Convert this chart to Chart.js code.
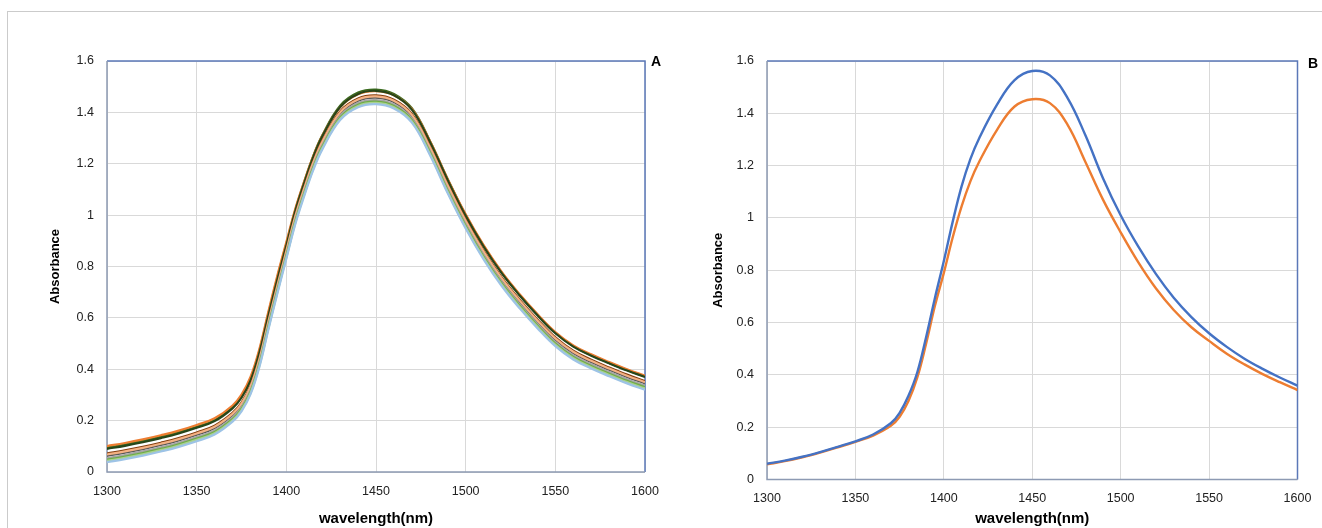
<!DOCTYPE html>
<html><head><meta charset="utf-8">
<script src="https://cdn.jsdelivr.net/npm/chart.js@4.4.1/dist/chart.umd.min.js"></script>
<style>
html,body{margin:0;padding:0;background:#fff;}
#wrap{position:relative;width:1322px;height:528px;overflow:hidden;background:#fff;}
#frame{position:absolute;left:7px;top:11px;width:1330px;height:530px;border-top:1px solid #cbcbcb;border-left:1px solid #cbcbcb;}
canvas{position:absolute;top:0;}
#cA{left:0;} #cB{left:661px;}
.lab{position:absolute;font:bold 14px "Liberation Sans",Arial,sans-serif;color:#000;}
</style></head><body>
<div id="wrap"><div id="frame"></div>
<canvas id="cA" width="661" height="528"></canvas>
<canvas id="cB" width="661" height="528"></canvas>
<div class="lab" style="left:651px;top:53px">A</div>
<div class="lab" style="left:1308px;top:55px">B</div>
</div>
<script>
// ---------- data ----------
const wavelengths = [1300,1310,1320,1330,1340,1350,1360,1370,1375,1380,1385,1390,1395,1400,1405,1410,1415,1420,1430,1440,1450,1460,1470,1480,1490,1500,1510,1520,1530,1540,1550,1560,1570,1580,1590,1600];
const xTickLabels = ['1300','1350','1400','1450','1500','1550','1600'];
const yTickLabels = ['0','0.2','0.4','0.6','0.8','1','1.2','1.4','1.6'];

// Panel A spectra
const aOrange     = [0.101,0.113,0.127,0.143,0.161,0.183,0.209,0.259,0.301,0.370,0.480,0.625,0.765,0.895,1.025,1.132,1.230,1.308,1.420,1.471,1.483,1.467,1.413,1.290,1.140,1.003,0.883,0.780,0.693,0.615,0.545,0.493,0.458,0.428,0.400,0.375];
const aDarkGreen  = [0.095,0.107,0.121,0.137,0.155,0.176,0.202,0.252,0.294,0.362,0.472,0.617,0.757,0.888,1.020,1.130,1.230,1.310,1.426,1.477,1.489,1.472,1.416,1.290,1.140,1.000,0.880,0.777,0.690,0.612,0.542,0.490,0.455,0.425,0.397,0.372];
const aBlackGreen = [0.090,0.102,0.116,0.132,0.150,0.172,0.198,0.248,0.289,0.356,0.465,0.609,0.749,0.882,1.016,1.126,1.226,1.306,1.421,1.472,1.484,1.467,1.411,1.286,1.136,0.997,0.878,0.775,0.688,0.610,0.540,0.488,0.453,0.423,0.395,0.370];
const aBrown      = [0.072,0.084,0.098,0.114,0.132,0.154,0.180,0.230,0.270,0.336,0.444,0.589,0.729,0.864,0.999,1.109,1.209,1.289,1.404,1.454,1.466,1.449,1.394,1.269,1.119,0.982,0.862,0.759,0.672,0.594,0.524,0.472,0.437,0.407,0.379,0.354];
const aDarkGray   = [0.063,0.075,0.089,0.105,0.123,0.145,0.171,0.221,0.261,0.327,0.435,0.580,0.720,0.855,0.990,1.100,1.200,1.280,1.395,1.445,1.457,1.440,1.385,1.260,1.110,0.973,0.853,0.750,0.663,0.585,0.515,0.463,0.428,0.398,0.370,0.345];
const aPink       = [0.068,0.080,0.094,0.110,0.128,0.150,0.176,0.226,0.266,0.332,0.440,0.585,0.725,0.860,0.995,1.105,1.205,1.285,1.400,1.450,1.462,1.445,1.390,1.265,1.115,0.978,0.858,0.755,0.668,0.590,0.520,0.468,0.433,0.403,0.375,0.350];
const aGray       = [0.054,0.066,0.080,0.096,0.114,0.136,0.162,0.212,0.252,0.318,0.426,0.571,0.711,0.846,0.981,1.091,1.191,1.271,1.386,1.436,1.448,1.431,1.376,1.251,1.101,0.964,0.844,0.741,0.654,0.576,0.506,0.454,0.419,0.389,0.361,0.336];
const aGreen      = [0.048,0.060,0.074,0.090,0.108,0.130,0.156,0.206,0.246,0.312,0.420,0.565,0.705,0.840,0.975,1.085,1.185,1.265,1.380,1.430,1.442,1.425,1.370,1.245,1.095,0.958,0.838,0.735,0.648,0.570,0.500,0.448,0.413,0.383,0.355,0.330];
const aLightGreen = [0.043,0.055,0.069,0.085,0.103,0.125,0.151,0.201,0.241,0.307,0.415,0.560,0.700,0.835,0.970,1.080,1.180,1.260,1.375,1.425,1.437,1.420,1.365,1.240,1.090,0.953,0.833,0.730,0.643,0.565,0.495,0.443,0.408,0.378,0.350,0.325];
const aLightBlue  = [0.038,0.050,0.064,0.080,0.098,0.120,0.146,0.196,0.236,0.302,0.410,0.555,0.695,0.830,0.965,1.075,1.175,1.255,1.370,1.420,1.432,1.415,1.360,1.235,1.085,0.948,0.828,0.725,0.638,0.560,0.490,0.438,0.403,0.373,0.345,0.320];

// Panel B spectra
const bBlue   = [0.060,0.072,0.087,0.105,0.125,0.146,0.172,0.215,0.255,0.320,0.410,0.545,0.695,0.835,0.985,1.120,1.225,1.305,1.432,1.527,1.562,1.545,1.458,1.317,1.152,1.010,0.890,0.785,0.695,0.621,0.559,0.507,0.462,0.424,0.390,0.359];
const bOrange = [0.058,0.070,0.085,0.103,0.123,0.144,0.168,0.205,0.240,0.300,0.390,0.520,0.665,0.790,0.925,1.043,1.140,1.215,1.336,1.426,1.454,1.439,1.356,1.215,1.070,0.945,0.830,0.730,0.648,0.582,0.530,0.481,0.440,0.404,0.372,0.342];

const seriesA = [
  [aLightBlue,'#9dc3e6'],[aLightGreen,'#a9d18e'],[aGreen,'#70ad47'],[aGray,'#a5a5a5'],
  [aPink,'#f4b183'],[aDarkGray,'#595959'],[aBrown,'#843c0c'],[aBlackGreen,'#27461a'],
  [aOrange,'#ed7d31'],[aDarkGreen,'#3a6b1f']
];
const seriesB = [[bBlue,'#4472c4'],[bOrange,'#ed7d31']];

// ---------- chart ----------
const FONT = '"Liberation Sans", Arial, sans-serif';
const frameBorder = {
  id:'frameBorder',
  beforeDatasetsDraw(chart){
    const a = chart.chartArea, c = chart.ctx;
    c.save();
    c.lineWidth = 1.5;
    c.strokeStyle = '#5b78b8';
    c.beginPath(); c.moveTo(a.left, a.top); c.lineTo(a.right, a.top); c.lineTo(a.right, a.bottom); c.stroke();
    c.strokeStyle = '#8d9ab3';
    c.beginPath(); c.moveTo(a.left, a.top); c.lineTo(a.left, a.bottom); c.lineTo(a.right, a.bottom); c.stroke();
    c.restore();
  }
};

function makeChart(id, series, g){
  new Chart(document.getElementById(id), {
    type:'line',
    data:{ datasets: series.map(([vals,col]) => ({
      data: vals.map((v,i)=>({x:wavelengths[i], y:v})),
      borderColor: col, borderWidth: g.lw, pointRadius:0, fill:false,
      tension:0.4
    }))},
    options:{
      responsive:false, animation:false, events:[],
      layout:{padding:{top:g.top,right:g.right,left:0,bottom:0}},
      plugins:{legend:{display:false},tooltip:{enabled:false}},
      scales:{
        x:{type:'linear',min:1300,max:1600,
           ticks:{stepSize:50,padding:12,color:'#222',font:{family:FONT,size:12.5},
                  callback:(v)=>{const i=Math.round((v-1300)/50);return xTickLabels[i];}, maxRotation:0},
           grid:{color:'#d9d9d9',lineWidth:1,drawTicks:false},
           border:{display:false},
           title:{display:true,text:'wavelength(nm)',color:'#000',font:{family:FONT,size:15,weight:'bold'},padding:{top:0,bottom:g.xTitleBottom}},
           afterFit:(s)=>{s.height=g.xh; s.paddingLeft=0; s.paddingRight=0;}
        },
        y:{type:'linear',min:0,max:1.6,
           ticks:{stepSize:0.2,padding:13,color:'#222',font:{family:FONT,size:12.5},
                  callback:(v)=>{const i=Math.round(v/0.2);return yTickLabels[i];}},
           grid:{color:'#d9d9d9',lineWidth:1,drawTicks:false},
           border:{display:false},
           title:{display:true,text:'Absorbance',color:'#000',font:{family:FONT,size:13,weight:'bold'},padding:{top:g.yTitleTop,bottom:0}},
           afterFit:(s)=>{s.width=g.yw; s.paddingTop=0; s.paddingBottom=0;}
        }
      }
    },
    plugins:[frameBorder]
  });
}

makeChart('cA', seriesA, {top:61,right:16,xh:56,yw:107,lw:2.2,yTitleTop:48,xTitleBottom:0});
makeChart('cB', seriesB, {top:61,right:24.5,xh:48.5,yw:106,lw:2.4,yTitleTop:50,xTitleBottom:0});
</script>
</body></html>
